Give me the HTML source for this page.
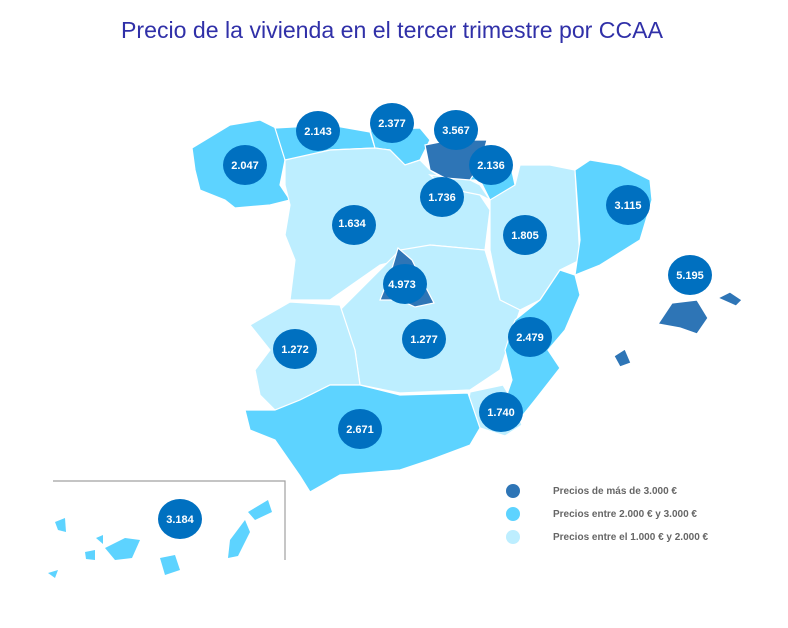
<!DOCTYPE html><html><head><style>
body{margin:0;background:#fff;width:788px;height:623px;overflow:hidden;font-family:"Liberation Sans",sans-serif}
</style></head><body>
<svg width="788" height="623" viewBox="0 0 788 623">
<text x="392" y="38" text-anchor="middle" font-size="23" fill="#3030a8" textLength="542" lengthAdjust="spacingAndGlyphs">Precio de la vivienda en el tercer trimestre por CCAA</text>
<g stroke="#fff" stroke-width="1.2">
<polygon fill="#5dd3ff" points="192,148 230,125 260,120 280,130 285,160 280,185 290,200 270,205 235,208 225,200 200,190 195,170"/>
<polygon fill="#5dd3ff" points="275,128 330,125 370,132 375,148 330,150 300,158 285,160"/>
<polygon fill="#5dd3ff" points="370,130 420,128 430,140 420,160 405,165 390,150 375,148"/>
<polygon fill="#5dd3ff" points="480,145 510,162 515,185 500,200 490,200 480,180 470,180"/>
<polygon fill="#bdeeff" points="285,160 330,150 375,148 390,150 405,165 420,160 430,170 445,180 480,195 490,210 485,250 430,245 420,255 380,265 330,300 290,300 295,260 285,235 290,205 285,185"/>
<polygon fill="#bdeeff" points="430,175 470,180 480,185 490,200 480,195 445,188"/>
<polygon fill="#2e75b6" points="425,145 450,140 487,140 480,165 470,180 445,178 430,170"/>
<polygon fill="#bdeeff" points="490,200 515,185 520,165 550,165 575,170 580,260 560,270 540,300 520,310 500,300 490,250"/>
<polygon fill="#5dd3ff" points="575,170 590,160 620,165 650,180 652,200 640,240 600,265 575,275 580,240"/>
<polygon fill="#bdeeff" points="340,310 380,270 400,250 430,245 485,250 500,300 520,310 510,340 500,370 470,390 400,393 360,385 355,350"/>
<polygon fill="#bdeeff" points="250,325 290,302 340,305 355,350 360,385 330,385 300,400 275,410 260,395 255,370 270,350"/>
<polygon fill="#5dd3ff" points="540,300 560,270 575,275 580,295 565,330 548,350 560,368 535,400 515,425 505,400 512,380 505,350 515,320"/>
<polygon fill="#bdeeff" points="470,392 503,385 512,400 522,425 505,436 480,428 468,405"/>
<polygon fill="#5dd3ff" points="245,410 275,410 300,400 330,385 360,385 400,395 468,393 480,428 470,445 430,460 400,470 340,475 310,492 300,476 275,440 250,430"/>
<polygon fill="#2e75b6" points="398,248 412,260 422,280 434,303 415,307 400,300 380,300 390,275"/>
<polygon fill="#2e75b6" points="658,324 672,303 697,300 708,318 697,334 680,328"/>
<polygon fill="#2e75b6" points="718,298 730,292 742,300 736,306"/>
<polygon fill="#2e75b6" points="614,356 625,349 631,363 620,367"/>
</g>
<polyline fill="none" stroke="#a0a0a0" stroke-width="1.2" points="53,481 285,481 285,560"/>
<g fill="#5dd3ff">
<polygon points="55,522 65,518 66,532 58,530"/><polygon points="85,552 95,550 95,560 86,559"/>
<polygon points="105,548 125,538 140,540 132,558 115,560"/><polygon points="160,558 175,555 180,570 165,575"/>
<polygon points="230,540 245,520 250,532 238,556 228,558"/><polygon points="248,512 268,500 272,512 255,520"/>
<polygon points="48,573 58,570 55,578"/><polygon points="96,538 103,535 103,544"/>
</g>
<g fill="#0070c0">
<ellipse cx="245" cy="165" rx="22" ry="20"/><ellipse cx="318" cy="131" rx="22" ry="20"/>
<ellipse cx="392" cy="123" rx="22" ry="20"/><ellipse cx="456" cy="130" rx="22" ry="20"/>
<ellipse cx="491" cy="165" rx="22" ry="20"/><ellipse cx="442" cy="197" rx="22" ry="20"/>
<ellipse cx="354" cy="225" rx="22" ry="20"/><ellipse cx="628" cy="205" rx="22" ry="20"/>
<ellipse cx="525" cy="235" rx="22" ry="20"/><ellipse cx="690" cy="275" rx="22" ry="20"/>
<ellipse cx="405" cy="284" rx="22" ry="20"/><ellipse cx="295" cy="349" rx="22" ry="20"/>
<ellipse cx="424" cy="339" rx="22" ry="20"/><ellipse cx="530" cy="337" rx="22" ry="20"/>
<ellipse cx="501" cy="412" rx="22" ry="20"/><ellipse cx="360" cy="429" rx="22" ry="20"/>
<ellipse cx="180" cy="519" rx="22" ry="20"/>
</g>
<g fill="#fff" font-size="11" font-weight="bold" text-anchor="middle">
<text x="245" y="169">2.047</text><text x="318" y="135">2.143</text><text x="392" y="127">2.377</text>
<text x="456" y="134">3.567</text><text x="491" y="169">2.136</text><text x="442" y="201">1.736</text>
<text x="352" y="227">1.634</text><text x="628" y="209">3.115</text><text x="525" y="239">1.805</text>
<text x="690" y="279">5.195</text><text x="402" y="288">4.973</text><text x="295" y="353">1.272</text>
<text x="424" y="343">1.277</text><text x="530" y="341">2.479</text><text x="501" y="416">1.740</text>
<text x="360" y="433">2.671</text><text x="180" y="523">3.184</text>
</g>
<circle cx="513" cy="491" r="7" fill="#2e75b6"/><circle cx="513" cy="514" r="7" fill="#5dd3ff"/><circle cx="513" cy="537" r="7" fill="#bdeeff"/>
<g fill="#666" font-size="10" font-weight="bold">
<text x="553" y="494">Precios de más de 3.000 €</text>
<text x="553" y="517">Precios entre 2.000 € y 3.000 €</text>
<text x="553" y="540">Precios entre el 1.000 € y 2.000 €</text>
</g>
</svg></body></html>
